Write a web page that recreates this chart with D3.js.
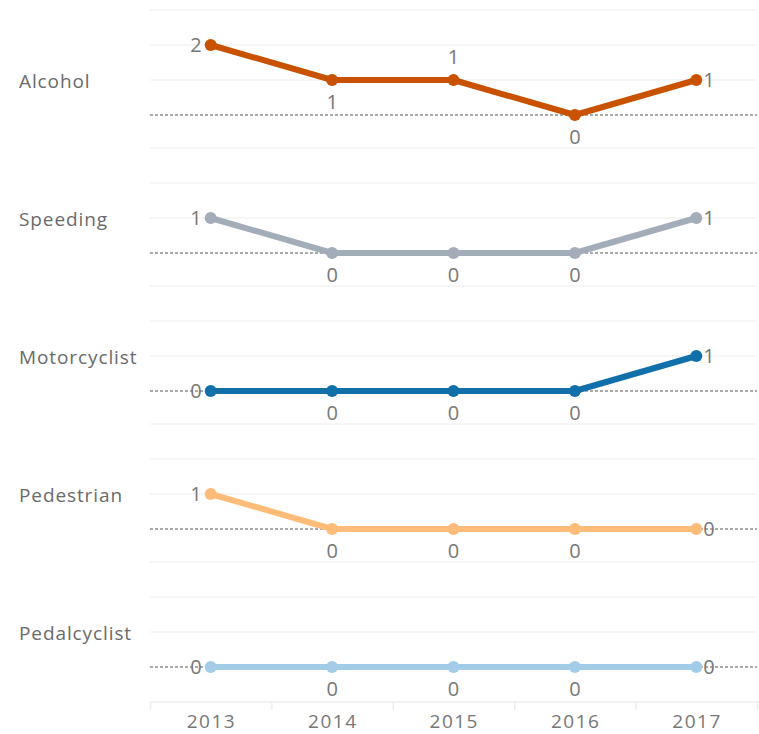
<!DOCTYPE html>
<html>
<head>
<meta charset="utf-8">
<script src="https://cdn.jsdelivr.net/npm/d3@7"></script>
<style>
  body { margin: 0; background: #fff; }
  svg { display: block; }
</style>
</head>
<body>
<script>
const width = 759;
const height = 734;

// data
const years = ['2013', '2014', '2015', '2016', '2017'];
const categories = ['Alcohol', 'Speeding', 'Motorcyclist', 'Pedestrian', 'Pedalcyclist'];
const alcohol = [2, 1, 1, 0, 1];
const speeding = [1, 0, 0, 0, 1];
const motorcyclist = [0, 0, 0, 0, 1];
const pedestrian = [1, 0, 0, 0, 0];
const pedalcyclist = [0, 0, 0, 0, 0];
const seriesValues = [alcohol, speeding, motorcyclist, pedestrian, pedalcyclist];
const colors = ['#c85200', '#a3acb9', '#1170aa', '#ffbc79', '#a3cce9'];
// where each label sits relative to its point
const labelPos = [
  ['left', 'below', 'above', 'below', 'right'],
  ['left', 'below', 'below', 'below', 'right'],
  ['left', 'below', 'below', 'below', 'right'],
  ['left', 'below', 'below', 'below', 'right'],
  ['left', 'below', 'below', 'below', 'right'],
];

const plotLeft = 150;
const plotRight = 757;
const panelH = 138;
const axisY = 702;
const font = '"Open Sans", sans-serif';

const svg = d3.select('body')
  .append('svg')
  .attr('width', width)
  .attr('height', height)
  .attr('viewBox', [0, 0, width, height]);

// x scale: one band per year
const x = d3.scaleBand()
  .domain(years)
  .range([plotLeft, plotRight])
  .padding(0);

// panel rows
const row = d3.scaleBand()
  .domain(categories)
  .range([0, panelH * categories.length]);

// value scale inside a panel (relative to panel top)
const y = d3.scaleLinear()
  .domain([0, 3])
  .range([115, 10]);

const cx = (yr) => x(yr) + x.bandwidth() / 2;

categories.forEach((cat, ci) => {
  const top = row(cat);
  const g = svg.append('g').attr('transform', `translate(0,${top})`);
  const vals = seriesValues[ci];

  // light grid lines
  g.append('g')
    .selectAll('line')
    .data([1, 2, 3])
    .join('line')
    .attr('x1', plotLeft)
    .attr('x2', plotRight)
    .attr('y1', (d) => y(d))
    .attr('y2', (d) => y(d))
    .attr('stroke', '#eeeeee')
    .attr('stroke-width', 1.2);

  // zero reference line
  g.append('line')
    .attr('x1', plotLeft)
    .attr('x2', plotRight)
    .attr('y1', y(0))
    .attr('y2', y(0))
    .attr('stroke', '#555')
    .attr('stroke-width', 1)
    .attr('stroke-dasharray', '3,2');

  // row header
  g.append('text')
    .attr('x', 19)
    .attr('y', 87.5)
    .text(cat)
    .style('font-family', font)
    .style('font-size', '19px')
    .style('letter-spacing', '0.9px')
    .style('fill', '#6a6a6a');

  const pts = years.map((yr, i) => [cx(yr), y(vals[i])]);

  g.append('path')
    .attr('d', d3.line()(pts))
    .attr('fill', 'none')
    .attr('stroke', colors[ci])
    .attr('stroke-width', 6)
    .attr('stroke-linejoin', 'round');

  g.append('g')
    .selectAll('circle')
    .data(pts)
    .join('circle')
    .attr('cx', (d) => d[0])
    .attr('cy', (d) => d[1])
    .attr('r', 6)
    .attr('fill', colors[ci]);

  // value labels
  g.append('g')
    .selectAll('text')
    .data(vals)
    .join('text')
    .attr('x', (d, i) => {
      const p = labelPos[ci][i];
      if (p === 'left') return pts[i][0] - 9;
      if (p === 'right') return pts[i][0] + 7;
      return pts[i][0];
    })
    .attr('y', (d, i) => {
      const p = labelPos[ci][i];
      if (p === 'below') return pts[i][1] + 29;
      if (p === 'above') return pts[i][1] - 16;
      return pts[i][1] + 7;
    })
    .attr('text-anchor', (d, i) => {
      const p = labelPos[ci][i];
      if (p === 'left') return 'end';
      if (p === 'right') return 'start';
      return 'middle';
    })
    .text((d) => d)
    .style('font-family', font)
    .style('font-size', '20px')
    .style('fill', '#777');
});

// x axis
const axis = svg.append('g').attr('transform', `translate(0,${axisY})`);
axis.append('line')
  .attr('x1', plotLeft)
  .attr('x2', width)
  .attr('stroke', '#eee')
  .attr('stroke-width', 1.5);
axis.append('g')
  .selectAll('line')
  .data(years.concat(['end']))
  .join('line')
  .attr('x1', (d) => (d === 'end' ? plotRight : x(d)) + 0.5)
  .attr('x2', (d) => (d === 'end' ? plotRight : x(d)) + 0.5)
  .attr('y1', 0)
  .attr('y2', 8)
  .attr('stroke', '#eee')
  .attr('stroke-width', 1.5);
axis.append('g')
  .selectAll('text')
  .data(years)
  .join('text')
  .attr('x', (d) => cx(d) + 0.75)
  .attr('y', 26)
  .attr('text-anchor', 'middle')
  .text((d) => d)
  .style('font-family', font)
  .style('font-size', '19px')
  .style('letter-spacing', '1.5px')
  .style('fill', '#777');
</script>
</body>
</html>
